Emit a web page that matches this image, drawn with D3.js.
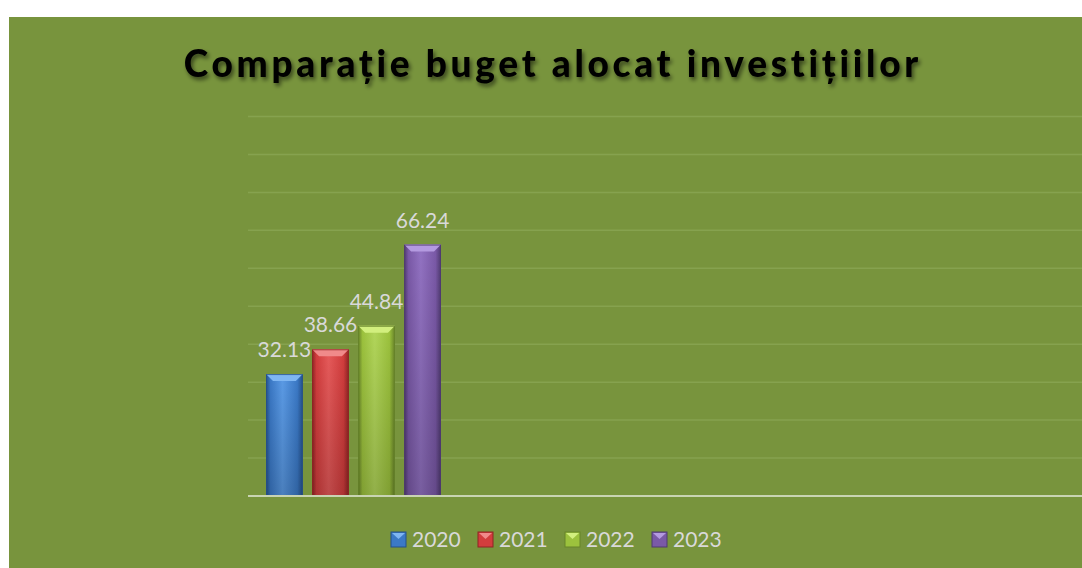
<!DOCTYPE html>
<html><head><meta charset="utf-8">
<script src="https://cdn.jsdelivr.net/npm/d3@7"></script>
<style>html,body{margin:0;padding:0;background:#fff;}svg{display:block;}</style>
</head><body>
<script>
const title = "Comparație buget alocat investițiilor";
const categories = ["Buget investiții"];
const series = ["2020", "2021", "2022", "2023"];
const values = [32.13, 38.66, 44.84, 66.24];
const yTicks = [0, 10, 20, 30, 40, 50, 60, 70, 80, 90, 100];
const colors = [
  {base:"#3b79c6", light:"#5b9be6", dark:"#25508a", top:"#7fb6f2"},
  {base:"#d23d3d", light:"#e65a5a", dark:"#8e2424", top:"#f08a8a"},
  {base:"#9cc23d", light:"#b2d65a", dark:"#67832a", top:"#d2ef7e"},
  {base:"#7a59a7", light:"#9272c2", dark:"#4f3a70", top:"#b49ae0"}
];

const W = 1082, H = 568;
const svg = d3.select("body").append("svg").attr("width", W).attr("height", H);
const defs = svg.append("defs");
colors.forEach((c, i) => {
  const g = defs.append("linearGradient").attr("id", "g" + i).attr("x1", 0).attr("x2", 1).attr("y1", 0).attr("y2", 0);
  g.append("stop").attr("offset", "0%").attr("stop-color", c.dark);
  g.append("stop").attr("offset", "12%").attr("stop-color", c.base);
  g.append("stop").attr("offset", "45%").attr("stop-color", c.light);
  g.append("stop").attr("offset", "85%").attr("stop-color", c.base);
  g.append("stop").attr("offset", "100%").attr("stop-color", c.dark);
  const v = defs.append("linearGradient").attr("id", "v" + i).attr("x1", 0).attr("x2", 0).attr("y1", 0).attr("y2", 1);
  v.append("stop").attr("offset", "0%").attr("stop-color", "#000").attr("stop-opacity", 0);
  v.append("stop").attr("offset", "100%").attr("stop-color", "#000").attr("stop-opacity", 0.18);
});
const flt = defs.append("filter").attr("id", "shadow").attr("x", "-10%").attr("y", "-30%").attr("width", "120%").attr("height", "160%");
flt.append("feGaussianBlur").attr("in", "SourceAlpha").attr("stdDeviation", 2).attr("result", "b");
flt.append("feOffset").attr("in", "b").attr("dx", 2).attr("dy", 3).attr("result", "o");
flt.append("feComponentTransfer").attr("in", "o").attr("result", "o2").append("feFuncA").attr("type", "linear").attr("slope", 0.55);
const fm = flt.append("feMerge");
fm.append("feMergeNode").attr("in", "o2");
fm.append("feMergeNode").attr("in", "SourceGraphic");

// panel
svg.append("rect").attr("x", 9).attr("y", 17).attr("width", W - 9).attr("height", H - 17).attr("fill", "#78943d");

// title
const t = svg.append("text").attr("x", 551).attr("y", 77).attr("text-anchor", "middle")
  .attr("font-family", "Lato, 'Open Sans', sans-serif").attr("font-weight", "900").attr("font-size", 37)
  .attr("fill", "#000").attr("filter", "url(#shadow)").text(title);
const targetW = 735;
const tw = t.node().getComputedTextLength();
const ls = (targetW - tw) / (title.length - 1);
t.attr("letter-spacing", ls).attr("x", 551 + ls / 2);

// scales
const plotL = 248, plotR = 1082, plotT = 116.5, plotB = 496;
const y = d3.scaleLinear().domain([0, 100]).range([plotB, plotT]);
const x0 = d3.scaleBand().domain(categories).range([266, 441]).padding(0);
const x1 = d3.scaleBand().domain(series).range([0, x0.bandwidth()]).paddingInner(0.2).paddingOuter(0);

// gridlines
svg.append("g").selectAll("line").data(yTicks.filter(d => d > 0)).join("line")
  .attr("x1", plotL).attr("x2", plotR).attr("y1", d => y(d)).attr("y2", d => y(d))
  .attr("stroke", "#86a24f").attr("stroke-width", 1.5);

// bars
const bars = svg.append("g");
series.forEach((s, i) => {
  const bx = x0(categories[0]) + x1(s), bw = x1.bandwidth();
  const by = y(values[i]), bh = y(0) - y(values[i]);
  const c = colors[i];
  const g = bars.append("g");
  g.append("rect").attr("x", bx).attr("y", by).attr("width", bw).attr("height", bh).attr("fill", `url(#g${i})`);
  g.append("rect").attr("x", bx).attr("y", by).attr("width", bw).attr("height", bh).attr("fill", `url(#v${i})`);
  const bev = 7;
  g.append("path").attr("d", `M${bx},${by} L${bx + bw},${by} L${bx + bw - bev},${by + bev} L${bx + bev},${by + bev} Z`).attr("fill", c.top);
  g.append("rect").attr("x", bx + 0.5).attr("y", by + 0.5).attr("width", bw - 1).attr("height", bh - 1)
    .attr("fill", "none").attr("stroke", c.dark).attr("stroke-width", 1).attr("stroke-opacity", 0.8);
  g.append("text").attr("x", bx + bw / 2).attr("y", by - 17).attr("text-anchor", "middle")
    .attr("font-family", "Lato, 'Open Sans', sans-serif").attr("font-size", 21).attr("fill", "#d9d9d9")
    .text(values[i].toFixed(2));
});

// baseline
svg.append("line").attr("x1", plotL).attr("x2", plotR).attr("y1", y(0)).attr("y2", y(0))
  .attr("stroke", "#c9d4b3").attr("stroke-width", 2);

// legend
const legendX = [391, 478, 565, 652];
const lg = svg.append("g");
series.forEach((s, i) => {
  const c = colors[i];
  const lx = legendX[i], ly = 532, sz = 15;
  lg.append("rect").attr("x", lx).attr("y", ly).attr("width", sz).attr("height", sz).attr("fill", c.base).attr("stroke", c.dark).attr("stroke-width", 1);
  lg.append("path").attr("d", `M${lx + 1},${ly + 1} L${lx + sz - 1},${ly + 1} L${lx + sz / 2},${ly + 7} Z`).attr("fill", c.top);
  lg.append("text").attr("x", lx + 21).attr("y", ly + 15).attr("font-family", "Lato, 'Open Sans', sans-serif")
    .attr("font-size", 21).attr("fill", "#d9d9d9").text(s);
});
</script>
</body></html>
